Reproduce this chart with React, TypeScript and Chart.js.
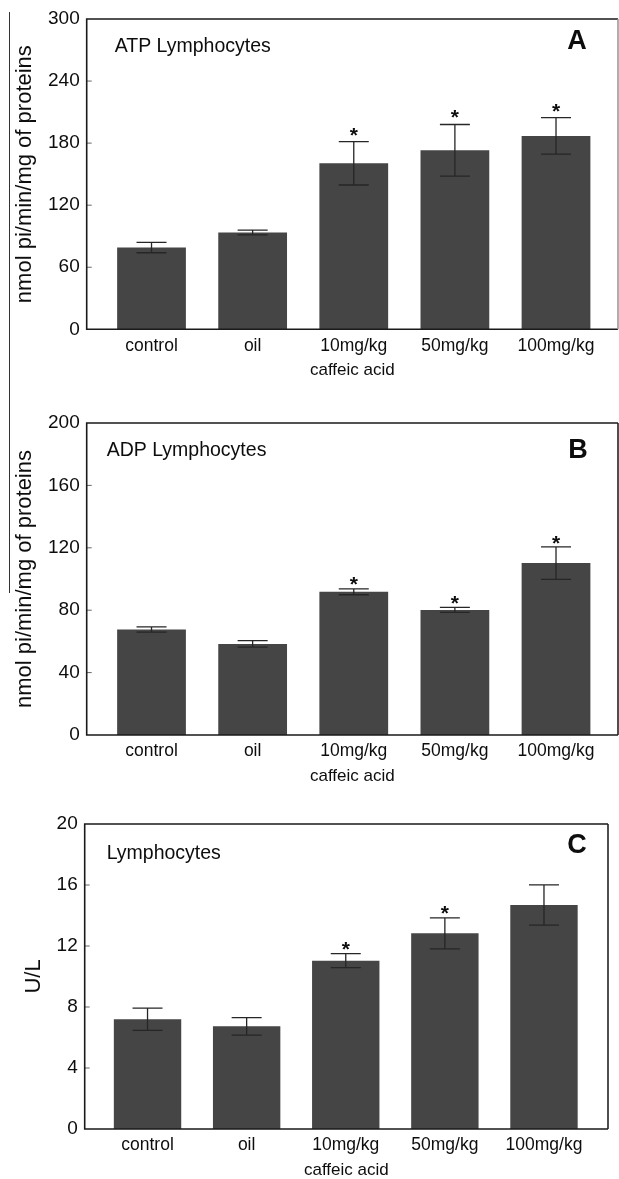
import React, { useEffect, useRef } from "react";
import { Chart, registerables } from "chart.js";

Chart.register(...registerables);

// ---------- data ----------
const categories = ["control", "oil", "10mg/kg", "50mg/kg", "100mg/kg"];
const xAxisTitle = "caffeic acid";

const atpValues = [79, 93.5, 160.5, 173, 187];
const atpErrors = [5, 2.3, 21, 25, 17.7];
const atpSignificant = [false, false, true, true, true];
const atpTicks = [0, 60, 120, 180, 240, 300];

const adpValues = [67.6, 58.4, 91.8, 80.2, 110.2];
const adpErrors = [1.7, 2.1, 1.9, 1.6, 10.4];
const adpSignificant = [false, false, true, true, true];
const adpTicks = [0, 40, 80, 120, 160, 200];

const lymphValues = [7.2, 6.73, 11.04, 12.83, 14.69];
const lymphErrors = [0.73, 0.57, 0.46, 1.02, 1.32];
const lymphSignificant = [false, false, true, true, false];
const lymphTicks = [0, 4, 8, 12, 16, 20];

const FONT = '"Liberation Sans", Arial, Helvetica, sans-serif';
const INK = "#0d0d0d";
const BAR = "#454545";

type Panel = {
  values: number[];
  errors: number[];
  significant: boolean[];
  ticks: number[];
  yTitle: string;
  inner: string;
  letter: string;
  top: number;
  height: number;
  boxTop: number;
  boxBottom: number;
  boxLeft: number;
  boxRight: number;
  xMin: number;
  xMax: number;
  yTitlePad: number;
  innerDx: number;
  innerDy: number;
  letterDx: number;
  letterDy: number;
  rightColor: string;
  starGap: number;
};

const panels: Panel[] = [
  {
    values: atpValues, errors: atpErrors, significant: atpSignificant, ticks: atpTicks,
    yTitle: "nmol pi/min/mg of proteins", inner: "ATP Lymphocytes", letter: "A",
    top: 0, height: 392, boxTop: 19, boxBottom: 329.3, boxLeft: 86.7, boxRight: 618,
    xMin: -0.641, xMax: 4.613, yTitlePad: 12,
    innerDx: 28, innerDy: 33, letterDx: 41, letterDy: 23, rightColor: "#9a9a9a", starGap: 12,
  },
  {
    values: adpValues, errors: adpErrors, significant: adpSignificant, ticks: adpTicks,
    yTitle: "nmol pi/min/mg of proteins", inner: "ADP Lymphocytes", letter: "B",
    top: 392, height: 400, boxTop: 31, boxBottom: 343, boxLeft: 86.7, boxRight: 618,
    xMin: -0.641, xMax: 4.613, yTitlePad: 12,
    innerDx: 20, innerDy: 32.5, letterDx: 40, letterDy: 28, rightColor: "#222222", starGap: 9.3,
  },
  {
    values: lymphValues, errors: lymphErrors, significant: lymphSignificant, ticks: lymphTicks,
    yTitle: "U/L", inner: "Lymphocytes", letter: "C",
    top: 792, height: 387, boxTop: 32, boxBottom: 337, boxLeft: 84.7, boxRight: 608,
    xMin: -0.634, xMax: 4.646, yTitlePad: 20.6,
    innerDx: 22, innerDy: 34.5, letterDx: 31, letterDy: 22, rightColor: "#222222", starGap: 9.5,
  },
];

function panelPlugin(p: Panel) {
  return {
    id: "panelDecor",
    afterDatasetsDraw(chart: any) {
      const { ctx, chartArea } = chart;
      const ys = chart.scales.y;
      const meta = chart.getDatasetMeta(0);
      ctx.save();
      // error bars + asterisks
      meta.data.forEach((bar: any, i: number) => {
        const v = p.values[i];
        const e = p.errors[i];
        const x = bar.x;
        const yTop = ys.getPixelForValue(v + e);
        const yBot = ys.getPixelForValue(v - e);
        const cap = 15;
        ctx.strokeStyle = "#262626";
        ctx.lineWidth = 1.3;
        ctx.beginPath();
        ctx.moveTo(x, yTop);
        ctx.lineTo(x, yBot);
        ctx.moveTo(x - cap, yTop);
        ctx.lineTo(x + cap, yTop);
        ctx.moveTo(x - cap, yBot);
        ctx.lineTo(x + cap, yBot);
        ctx.stroke();
        if (p.significant[i]) {
          const size = 21;
          ctx.fillStyle = INK;
          ctx.font = `bold ${size}px ${FONT}`;
          ctx.textAlign = "center";
          ctx.textBaseline = "alphabetic";
          ctx.fillText("*", x, yTop - p.starGap + 0.57 * size);
        }
      });
      // inward y ticks
      ctx.strokeStyle = "#666";
      ctx.lineWidth = 1;
      ys.ticks.forEach((t: any) => {
        const y = ys.getPixelForValue(t.value);
        if (t.value === p.ticks[0] || t.value === p.ticks[p.ticks.length - 1]) return;
        ctx.beginPath();
        ctx.moveTo(chartArea.left, y);
        ctx.lineTo(chartArea.left + 5, y);
        ctx.stroke();
      });
      // frame
      ctx.lineWidth = 1.6;
      ctx.strokeStyle = "#1a1a1a";
      ctx.beginPath();
      ctx.moveTo(chartArea.right, chartArea.top);
      ctx.lineTo(chartArea.left, chartArea.top);
      ctx.lineTo(chartArea.left, chartArea.bottom);
      ctx.lineTo(chartArea.right, chartArea.bottom);
      ctx.stroke();
      ctx.strokeStyle = p.rightColor;
      ctx.beginPath();
      ctx.moveTo(chartArea.right, chartArea.top);
      ctx.lineTo(chartArea.right, chartArea.bottom);
      ctx.stroke();
      // inner title
      ctx.fillStyle = INK;
      ctx.font = `19.5px ${FONT}`;
      ctx.textAlign = "left";
      ctx.textBaseline = "alphabetic";
      ctx.fillText(p.inner, chartArea.left + p.innerDx, chartArea.top + p.innerDy);
      // panel letter
      ctx.font = `bold 27px ${FONT}`;
      ctx.textAlign = "center";
      ctx.textBaseline = "middle";
      ctx.fillText(p.letter, chartArea.right - p.letterDx, chartArea.top + p.letterDy);
      ctx.restore();
    },
  };
}

function PanelChart({ p }: { p: Panel }) {
  const ref = useRef<HTMLCanvasElement | null>(null);
  useEffect(() => {
    if (!ref.current) return;
    const xAxisH = 50;
    const chart = new Chart(ref.current, {
      type: "bar",
      data: {
        datasets: [
          {
            data: p.values.map((v, i) => ({ x: i, y: v })),
            backgroundColor: BAR,
            borderWidth: 0,
            barPercentage: 0.85,
            categoryPercentage: 0.8,
          },
        ],
      },
      options: {
        responsive: false,
        animation: false,
        events: [],
        layout: {
          padding: {
            top: p.boxTop,
            right: 619 - p.boxRight,
            bottom: Math.max(0, p.height - p.boxBottom - xAxisH),
            left: 0,
          },
        },
        plugins: {
          legend: { display: false },
          tooltip: { enabled: false },
        },
        scales: {
          x: {
            type: "linear",
            offset: false,
            min: p.xMin,
            max: p.xMax,
            grid: { display: false, drawTicks: false, offset: false },
            border: { display: false },
            afterBuildTicks: (s: any) => {
              s.ticks = categories.map((_, i) => ({ value: i }));
            },
            afterFit: (s: any) => {
              s.height = xAxisH;
            },
            ticks: {
              padding: 6,
              autoSkip: false,
              maxRotation: 0,
              color: INK,
              font: { family: FONT, size: 17.5 },
              callback: (v: any) => categories[v] ?? "",
            },
            title: {
              display: true,
              text: xAxisTitle,
              color: INK,
              font: { family: FONT, size: 17, lineHeight: 1 },
              padding: { top: 0, bottom: 0 },
            },
          },
          y: {
            type: "linear",
            min: p.ticks[0],
            max: p.ticks[p.ticks.length - 1],
            afterBuildTicks: (s: any) => {
              s.ticks = p.ticks.map((v) => ({ value: v }));
            },
            afterFit: (s: any) => {
              s.width = p.boxLeft;
            },
            grid: { display: false, drawTicks: false },
            border: { display: false },
            ticks: {
              padding: 7,
              color: INK,
              font: { family: FONT, size: 19 },
            },
            title: {
              display: true,
              text: p.yTitle,
              color: INK,
              font: { family: FONT, size: 22, lineHeight: 1.2 },
              padding: { top: p.yTitlePad, bottom: 0 },
            },
          },
        },
      },
      plugins: [panelPlugin(p)],
    } as any);
    return () => chart.destroy();
  }, [p]);
  return (
    <canvas
      ref={ref}
      width={619}
      height={p.height}
      style={{ position: "absolute", left: 0, top: p.top, width: 619, height: p.height, display: "block" }}
    />
  );
}

export default function App() {
  return (
    <div
      style={{
        position: "absolute",
        left: 0,
        top: 0,
        width: 619,
        height: 1179,
        background: "#ffffff",
        overflow: "hidden",
      }}
    >
      {panels.map((p, i) => (
        <PanelChart key={i} p={p} />
      ))}
      <div
        style={{
          position: "absolute",
          left: 9,
          top: 12,
          width: 1,
          height: 581,
          background: "#333333",
        }}
      />
    </div>
  );
}
